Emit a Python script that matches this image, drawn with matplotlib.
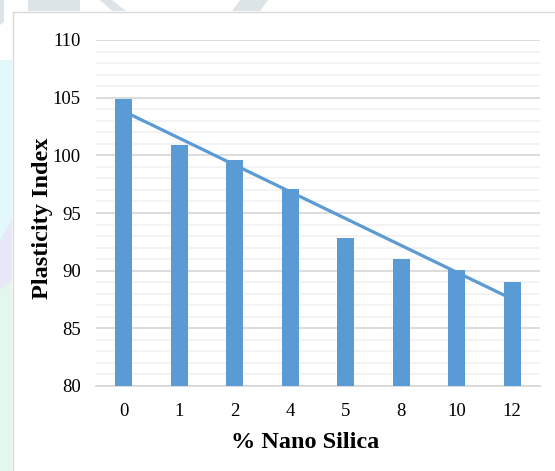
import matplotlib.pyplot as plt
import numpy as np
from matplotlib.patches import Polygon, Rectangle

# Plasticity index against nano silica content
silica_pct = ['0', '1', '2', '4', '5', '8', '10', '12']
plasticity_index = [104.9, 100.9, 99.6, 97.1, 92.8, 91.0, 90.1, 89.0]

bar_color = '#5B9BD5'
serif = 'Liberation Serif'

W, H = 555, 471
fig = plt.figure(figsize=(W / 100, H / 100), dpi=100)
fig.patch.set_facecolor('white')


def px(x0, y0, x1, y1):
    # pixel box -> figure fraction [left, bottom, width, height]
    return [x0 / W, 1 - y1 / H, (x1 - x0) / W, (y1 - y0) / H]


# faint background shapes around the chart frame
bg = fig.add_axes([0, 0, 1, 1])
bg.set_xlim(0, W)
bg.set_ylim(H, 0)
bg.axis('off')
bg.add_patch(Rectangle((0, 60), 12, 200, color='#e3f8fb', lw=0))
bg.add_patch(Polygon([(0, 240), (12, 220), (12, 300), (0, 290)], color='#e6e8f8', lw=0))
bg.add_patch(Polygon([(0, 290), (12, 280), (12, 471), (0, 471)], color='#e4f7ec', lw=0))
for poly in [[(0, 0), (4, 0), (4, 22), (0, 25)],
             [(28, 0), (80, 0), (80, 11), (28, 11)],
             [(100, 0), (112, 0), (126, 11), (112, 11)],
             [(240, 0), (268, 0), (260, 11), (232, 11)]]:
    bg.add_patch(Polygon(poly, color='#dde4e7', lw=0))
bg.plot([12.5, 12.5, W], [H, 11.5, 11.5], color='#d9d9d9', lw=1)

ax = fig.add_axes(px(96, 40, 540, 386))
x = np.arange(len(silica_pct))
ax.bar(x, plasticity_index, width=0.31, color=bar_color, zorder=3)

# linear trendline across the categories
slope, intercept = np.polyfit(x + 1, plasticity_index, 1)
ax.plot(x, slope * (x + 1) + intercept, color=bar_color, lw=2.3,
        solid_capstyle='butt', zorder=4)

ax.set_xlim(-0.5, len(silica_pct) - 0.5)
ax.set_ylim(80, 110)
ax.set_yticks(np.arange(80, 111, 5))
ax.set_yticks(np.arange(80, 111, 1), minor=True)
ax.yaxis.grid(True, which='major', color='#d9d9d9', lw=1.3, zorder=0)
ax.yaxis.grid(True, which='minor', color='#f2f2f2', lw=1.3, zorder=0)
ax.set_xticks(x)
ax.set_xticklabels(silica_pct)

for s in ['top', 'right', 'left']:
    ax.spines[s].set_visible(False)
ax.spines['bottom'].set_color('#d9d9d9')
ax.spines['bottom'].set_linewidth(1.3)
ax.tick_params(which='both', length=0)
ax.tick_params(axis='y', pad=11)
ax.tick_params(axis='x', pad=12)

for lab in ax.get_xticklabels() + ax.get_yticklabels():
    lab.set_fontfamily(serif)
    lab.set_fontsize(13.5)

fig.text(305 / W, 1 - 443 / H, '% Nano Silica', family=serif, fontsize=17.5,
         fontweight='bold', ha='center', va='center')
fig.text(43 / W, 1 - 218 / H, 'Plasticity Index', family=serif, fontsize=17.5,
         fontweight='bold', ha='center', va='center', rotation=90)

fig.savefig('out.png', dpi=100)
